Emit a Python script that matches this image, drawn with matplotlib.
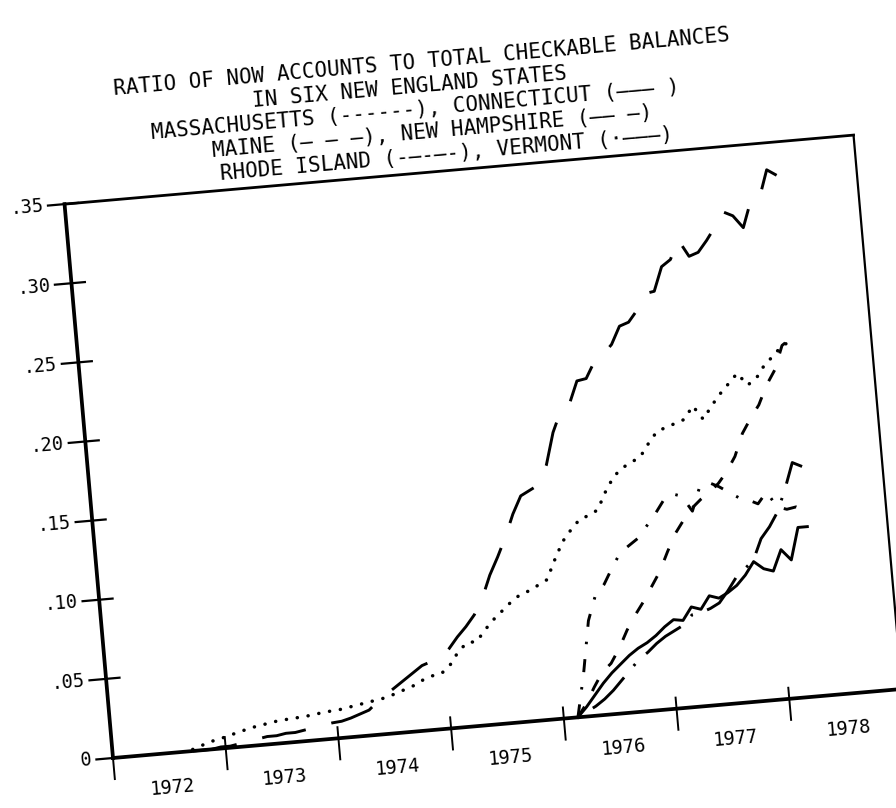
import numpy as np
import matplotlib
matplotlib.use('Agg')
import matplotlib.pyplot as plt
from matplotlib.transforms import Affine2D, blended_transform_factory

plt.rcParams['lines.scale_dashes'] = False
plt.rcParams['font.family'] = ['DejaVu Sans Mono', 'DejaVu Sans']

# month index 0 = Jan 1972, values plotted mid-month
ma_first = 8
nh_first = 8
new_first = 49   # the other four states start Feb/Mar 1976

massachusetts = [
    0.001, 0.003, 0.005, 0.006,                                   # 1972 Sep-Dec
    0.008, 0.009, 0.011, 0.012, 0.013, 0.014, 0.0146, 0.015, 0.0155, 0.016, 0.017, 0.0175,  # 1973
    0.018, 0.019, 0.020, 0.021, 0.022, 0.023, 0.025, 0.027, 0.029, 0.032, 0.034, 0.035,     # 1974
    0.040, 0.048, 0.053, 0.053, 0.060, 0.066, 0.071, 0.076, 0.080, 0.082, 0.085, 0.088,     # 1975
    0.100, 0.111, 0.118, 0.124, 0.126, 0.129, 0.140, 0.149, 0.154, 0.157, 0.160, 0.168,     # 1976
    0.175, 0.177, 0.179, 0.181, 0.189, 0.180, 0.188, 0.195, 0.201, 0.207, 0.199, 0.203,     # 1977
    0.211, 0.216, 0.222, 0.224,                                   # 1978 Jan-Apr
]
new_hampshire = [
    0.000, 0.000, 0.000, 0.001,
    0.001, 0.002, 0.003, 0.004, 0.005, 0.005, 0.006, 0.006, 0.007, 0.008, 0.009, 0.010,
    0.0105, 0.012, 0.014, 0.016, 0.021, 0.025, 0.029, 0.033, 0.037, 0.041, 0.043, 0.044,
    0.050, 0.057, 0.063, 0.070, 0.080, 0.094, 0.105, 0.117, 0.131, 0.142, 0.145, 0.148,
    0.160, 0.180, 0.193, 0.197, 0.211, 0.212, 0.222, 0.226, 0.232, 0.243, 0.245, 0.252,
    0.262, 0.263, 0.278, 0.282, 0.294, 0.283, 0.285, 0.292, 0.300, 0.309, 0.306, 0.298,
    0.314, 0.316, 0.333, 0.329,
]
connecticut = [0.000, 0.006, 0.013, 0.020, 0.026, 0.031, 0.036, 0.040, 0.043, 0.047, 0.052,
               0.056, 0.055, 0.063, 0.061, 0.069, 0.067, 0.070, 0.074, 0.080, 0.088, 0.083, 0.081,
               0.094, 0.087, 0.107, 0.107]
maine = [0.000, 0.008, 0.018, 0.027, 0.032, 0.041, 0.052, 0.061, 0.069, 0.078, 0.087,
         0.099, 0.110, 0.118, 0.125, 0.130, 0.134, 0.139, 0.146, 0.155, 0.169, 0.178, 0.186,
         0.198, 0.207, 0.222, 0.226]
rhode_island = [0.000, 0.027, 0.060, 0.076, 0.082, 0.092, 0.101, 0.105, 0.109, 0.116, 0.123,
                0.131, 0.135, 0.133, 0.123, 0.138, 0.140, 0.137, 0.133, 0.129, 0.127, 0.124, 0.131,
                0.121, 0.119, 0.120, 0.117]
vermont = [0.000, 0.003, 0.006, 0.010, 0.015, 0.021, 0.027, 0.033, 0.037, 0.042, 0.046,
           0.049, 0.052, 0.058, 0.059, 0.061, 0.064, 0.071, 0.079, 0.084, 0.089, 0.102, 0.109,
           0.118, 0.132, 0.148, 0.145]

y_ticks = [0, 0.05, 0.10, 0.15, 0.20, 0.25, 0.30, 0.35]
y_tick_labels = ['0', '.05', '.10', '.15', '.20', '.25', '.30', '.35']
years = [1972, 1973, 1974, 1975, 1976, 1977, 1978]

title_lines = [
    'RATIO OF NOW ACCOUNTS TO TOTAL CHECKABLE BALANCES',
    'IN SIX NEW ENGLAND STATES',
    'MASSACHUSETTS (------), CONNECTICUT (——— )',
    'MAINE (– – –), NEW HAMPSHIRE (—— —)',
    'RHODE ISLAND (-—-—-), VERMONT (·———)',
]
title_centers = [0.465, 0.447, 0.452, 0.470, 0.486]


def month_dates(first, n):
    return 1972 + (first + np.arange(n) + 0.5) / 12


W, H = 896, 808
ox, oy = 113, 50      # origin of the plot in pixels
aw, ah = 792, 556     # plot box size before the tilt
tilt = 5.0            # the scanned page sits a little crooked

fig = plt.figure(figsize=(W / 100, H / 100), dpi=100)
fig.patch.set_facecolor('white')
ax = fig.add_axes([ox / W, oy / H, aw / W, ah / H])
ax.set_autoscale_on(False)
ax.set_xlim(1972, 1979)
ax.set_ylim(0, 0.35)
ax.axis('off')

rot = Affine2D().rotate_deg_around(ox, oy, tilt)
tr_data = ax.transData + rot
tr_axes = ax.transAxes + rot
tr_y = blended_transform_factory(ax.transAxes, ax.transData) + rot
tr_x = blended_transform_factory(ax.transData, ax.transAxes) + rot

series = [
    (massachusetts, ma_first, dict(linestyle=(0, (0.1, 7.8)), dash_capstyle='round', lw=2.5)),
    (new_hampshire, nh_first, dict(linestyle=(0, (32, 19)), lw=2.1)),
    (connecticut, new_first, dict(linestyle='-', lw=2.1)),
    (maine, new_first, dict(linestyle=(0, (9, 12.6)), lw=2.1)),
    (rhode_island, new_first, dict(linestyle=(0, (9.4, 10.8, 1.8, 10.8)), lw=2.1)),
    (vermont, new_first, dict(linestyle=(0, (1.8, 10.8, 31.7, 10.8)), lw=2.1)),
]
for vals, first, style in series:
    ax.plot(month_dates(first, len(vals)), vals, color='black', transform=tr_data,
            clip_on=False, **style)

# frame
ax.plot([0, 0], [0, 1], transform=tr_axes, color='black', lw=2.7, clip_on=False)
ax.plot([0, 1], [0, 0], transform=tr_axes, color='black', lw=2.7, clip_on=False)
ax.plot([0, 1], [1, 1], transform=tr_axes, color='black', lw=2.0, clip_on=False)
ax.plot([1, 1], [0, 1], transform=tr_axes, color='black', lw=1.6, clip_on=False)

# ticks and tick labels
for v, s in zip(y_ticks, y_tick_labels):
    ax.plot([-0.021, 0.017], [v, v], transform=tr_y, color='black', lw=1.6, clip_on=False)
    ax.text(-0.027, v, s, transform=tr_y, ha='right', va='center', rotation=tilt,
            rotation_mode='anchor', fontsize=13.5)
for yr in years:
    ax.plot([yr, yr], [-0.038, 0.02], transform=tr_x, color='black', lw=1.4, clip_on=False)
    ax.text(yr + 0.5, -0.062, str(yr), transform=tr_x, ha='center', va='center',
            rotation=tilt, rotation_mode='anchor', fontsize=13.5)

for i, line in enumerate(title_lines):
    ax.text(title_centers[i], 1.198 - i * 0.042, line, transform=tr_axes, ha='center',
            va='center', rotation=tilt, rotation_mode='anchor', fontsize=15)

fig.savefig('out.png', dpi=100, facecolor='white')
